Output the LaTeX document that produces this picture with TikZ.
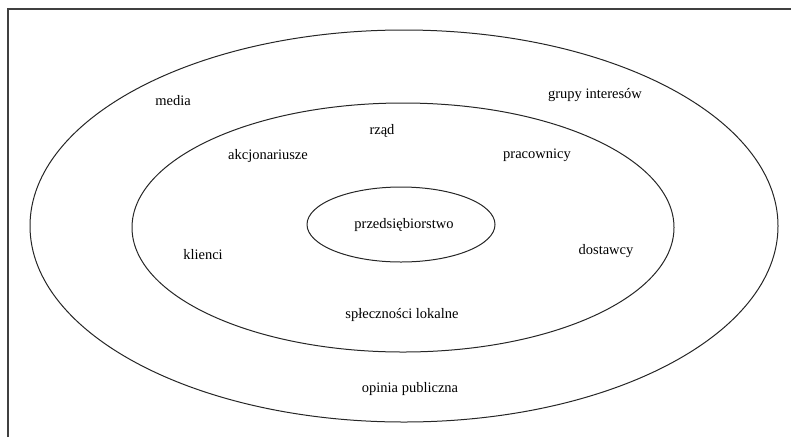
\documentclass[tikz,border=0pt]{standalone}
\usepackage{fontspec}
\setmainfont{Liberation Serif}
\usetikzlibrary{shapes.geometric}
\begin{document}
\begin{tikzpicture}[x=1pt,y=-1pt,
  ring/.style={draw=black!85, line width=1pt},
  lbl/.style={font=\fontsize{14.5}{16}\selectfont, inner sep=0pt, anchor=center}]
\useasboundingbox (0,0) rectangle (791,437);
\draw[black!75, line width=1.8pt] (8,437) -- (8,9) -- (791,9);
\draw[ring] (404,226) ellipse [x radius=374, y radius=196];
\draw[ring] (403,227.5) ellipse [x radius=271, y radius=124.5];
\draw[ring] (401,224.5) ellipse [x radius=94, y radius=37.5];
\node[lbl] (media) at (173,101) {media};
\node[lbl] (grupy) at (595,95) {grupy interesów};
\node[lbl] (rzad) at (382,131) {rząd};
\node[lbl] (akcj) at (268,156) {akcjonariusze};
\node[lbl] (prac) at (537,155) {pracownicy};
\node[lbl] (przed) at (404,225) {przedsiębiorstwo};
\node[lbl] (klienci) at (203,255) {klienci};
\node[lbl] (dost) at (606,251) {dostawcy};
\node[lbl] (spol) at (402,315) {spłeczności lokalne};
\node[lbl] (opinia) at (410,389) {opinia publiczna};
\end{tikzpicture}
\end{document}
